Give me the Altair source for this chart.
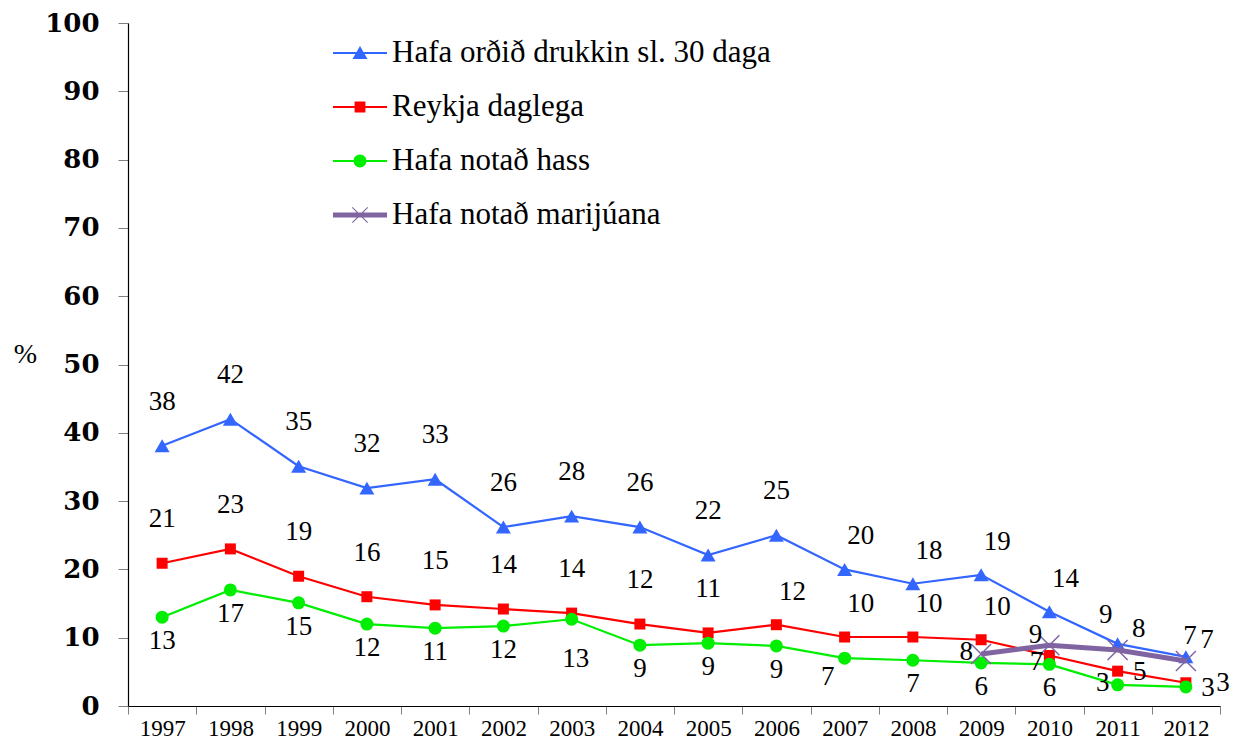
import altair as alt
import pandas as pd

# ---------------- data ----------------
years = [str(y) for y in range(1997, 2013)]
series_names = [
    "Hafa orðið drukkin sl. 30 daga",
    "Reykja daglega",
    "Hafa notað hass",
    "Hafa notað marijúana",
]
drunk = [38.1, 42.0, 35.1, 31.9, 33.2, 26.2, 27.8, 26.2, 22.1, 25.0, 20.0, 17.9, 19.2, 13.8, 9.1, 7.2]
smoke = [20.9, 23.0, 19.0, 16.0, 14.8, 14.2, 13.6, 12.0, 10.7, 11.9, 10.1, 10.1, 9.7, 7.4, 5.1, 3.4]
hash_ = [13.0, 17.0, 15.1, 12.0, 11.4, 11.7, 12.7, 8.9, 9.2, 8.8, 7.0, 6.7, 6.3, 6.1, 3.1, 2.8]
marij_years = ["2009", "2010", "2011", "2012"]
marij = [7.6, 8.9, 8.2, 6.6]

# label placement (side of the point where the value label sits)
drunk_place = ["N"] * 10 + ["NE"] * 4 + ["NW", "n"]
smoke_place = ["N"] * 9 + ["NE"] * 4 + ["sw", "E", "EE"]
hash_place = ["S"] * 6 + ["S2"] + ["S"] * 3 + ["SW"] + ["S"] * 3 + ["W", "E"]
marij_place = ["W", "nw", "ne", "ne"]

# ---------------- styles ----------------
colors = ["#3366FF", "#FF0000", "#00EE00", "#8064A2"]
line_widths = [2.2, 2.2, 2.2, 5]
X_PATH = "M-1,-1L1,1M-1,1L1,-1"
marker_shapes = ["triangle-up", "square", "circle", X_PATH]
marker_sizes = [225, 121, 169, 400]
marker_filled = [True, True, True, False]

legend_paths = [
    "M-1,-0.04H1V0.04H-1Z M0,-0.26L0.28,0.22L-0.28,0.22Z",
    "M-1,-0.04H1V0.04H-1Z M-0.2,-0.2H0.2V0.2H-0.2Z",
    "M-1,-0.04H1V0.04H-1Z M-0.24,0A0.24,0.24 0 1,1 0.24,0A0.24,0.24 0 1,1 -0.24,0Z",
    "M-1,-0.093H1V0.093H-1Z M-0.27,-0.3L0.3,0.27L0.27,0.3L-0.3,-0.27Z M0.27,-0.3L0.3,-0.27L-0.27,0.3L-0.3,0.27Z",
]

OFFS = {
    "N": (0, -44), "n": (4, -21), "NE": (16, -33), "NW": (-12, -29),
    "S": (0, 24), "S2": (4, 40), "SW": (-17, 19), "W": (-15, -2), "sw": (-13, 7),
    "E": (22, 1), "EE": (37, 0), "nw": (-14, -10), "ne": (21, -21),
}

rows = []
for name, yrs, vals, places in [
    (series_names[0], years, drunk, drunk_place),
    (series_names[1], years, smoke, smoke_place),
    (series_names[2], years, hash_, hash_place),
    (series_names[3], marij_years, marij, marij_place),
]:
    for yv, v, p in zip(yrs, vals, places):
        rows.append({"series": name, "year": yv, "value": v, "place": p})
df = pd.DataFrame(rows)

x_enc = alt.X(
    "year:O",
    title=None,
    scale=alt.Scale(type="band", domain=years, paddingInner=0, paddingOuter=0),
    axis=alt.Axis(
        labelAngle=0, labelFont="Liberation Serif", labelFontSize=23, labelColor="black",
        labelBaseline="middle", labelPadding=14, tickBand="extent", tickSize=8,
        tickColor="#808080", domainColor="black", domainWidth=1.2, grid=False,
    ),
)
y_enc = alt.Y(
    "value:Q",
    title="%",
    scale=alt.Scale(domain=[0, 100]),
    axis=alt.Axis(
        values=list(range(0, 101, 10)), labelFont="DejaVu Serif", labelFontWeight="bold",
        labelFontSize=26, labelColor="black", labelPadding=19, tickSize=10,
        tickColor="#808080", domainColor="black", domainWidth=1.2, grid=False,
        titleAngle=0, titleX=-103, titleY=331, titleAlign="center", titleBaseline="middle",
        titleFont="Liberation Serif", titleFontSize=28, titleFontWeight="normal",
        titleColor="black",
    ),
)

base = alt.Chart(df)
layers = []
for i, name in enumerate(series_names):
    sub = base.transform_filter(alt.datum.series == name)
    layers.append(
        sub.mark_line(color=colors[i], strokeWidth=line_widths[i]).encode(x=x_enc, y=y_enc)
    )
    layers.append(
        sub.mark_point(
            shape=marker_shapes[i], size=marker_sizes[i], filled=marker_filled[i],
            color=colors[i], opacity=1, strokeWidth=1.5,
        ).encode(x=x_enc, y=y_enc)
    )

for i, name in enumerate(series_names):
    for key, (dx, dy) in OFFS.items():
        if not ((df.series == name) & (df.place == key)).any():
            continue
        layers.append(
            base.transform_filter((alt.datum.series == name) & (alt.datum.place == key))
            .mark_text(dx=dx, dy=dy, font="Liberation Serif", fontSize=27, color="black",
                       align="center", baseline="middle")
            .encode(x=x_enc, y=y_enc, text=alt.Text("value:Q", format=".0f"))
        )

leg = alt.Legend(
    orient="none", legendX=205, legendY=3, title=None, direction="vertical",
    symbolSize=2916, symbolStrokeWidth=0, symbolOpacity=1,
    labelFont="Liberation Serif", labelFontSize=31, labelColor="black",
    labelOffset=5, labelLimit=800, rowPadding=12, padding=0,
)
legend_layer = base.transform_filter("false").mark_point(filled=True, size=2916, opacity=1).encode(
    x=x_enc, y=y_enc,
    color=alt.Color("series:N", scale=alt.Scale(domain=series_names, range=colors), legend=leg),
    shape=alt.Shape("series:N", scale=alt.Scale(domain=series_names, range=legend_paths), legend=leg),
)
layers.append(legend_layer)

chart = alt.layer(*layers).properties(
    width=1092, height=683,
    padding={"left": 120, "top": 15, "right": 20, "bottom": 33},
    autosize=alt.AutoSizeParams(type="none"),
).configure_view(stroke=None)

chart.save("out.html", embed_options={"renderer": "svg", "actions": False})
